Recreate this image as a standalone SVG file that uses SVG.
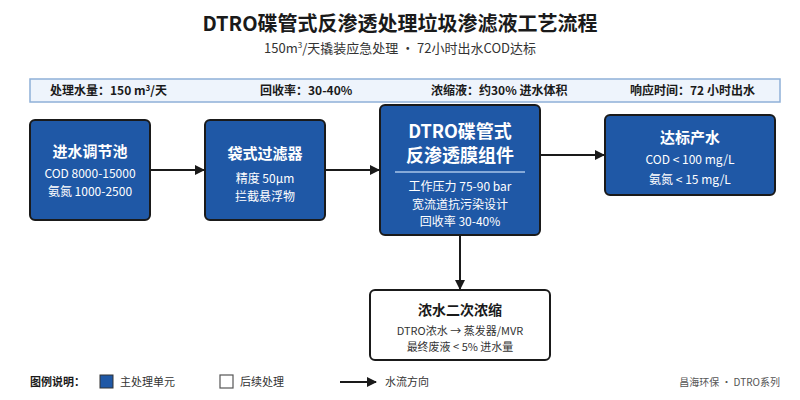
<svg xmlns="http://www.w3.org/2000/svg" width="800" height="400" viewBox="0 0 800 400">
<defs>
<marker id="ah" markerWidth="10" markerHeight="10" refX="9" refY="5" orient="auto" markerUnits="userSpaceOnUse">
<path d="M0,0 L10,5 L0,10 Z" fill="#1a1a1a"/>
</marker>
<style>
text{font-family:"Noto Sans CJK SC","Noto Sans",sans-serif;}
.main{fill:#1f58a6;stroke:#1a1a1a;stroke-width:2;}
.sub{fill:#ffffff;stroke:#1a1a1a;stroke-width:2;}
.nt{fill:#ffffff;font-weight:bold;text-anchor:middle;}
.nd{fill:#ffffff;font-size:12px;text-anchor:middle;}
.info{font-size:12px;font-weight:bold;fill:#1a1a1a;}
.conn{stroke:#1a1a1a;stroke-width:2;fill:none;marker-end:url(#ah);}
.leg{font-size:11px;fill:#333;}
</style>
</defs>
<rect width="800" height="400" fill="#ffffff"/>
<text x="400" y="31" text-anchor="middle" font-size="20" font-weight="bold" fill="#1a1a1a">DTRO碟管式反渗透处理垃圾渗滤液工艺流程</text>
<text x="400" y="53" text-anchor="middle" font-size="13" fill="#333">150m<tspan font-size="8" dy="-5">3</tspan><tspan dy="5">/天撬装应急处理 · 72小时出水COD达标</tspan></text>

<g id="infobar">
<rect x="30" y="79" width="750" height="23" fill="#eef4fc" stroke="#8fb0d8" stroke-width="1.5"/>
<text class="info" x="50" y="95">处理水量：150 m<tspan font-size="8" dy="-4">3</tspan><tspan dy="4">/天</tspan></text>
<text class="info" x="260" y="95">回收率：30-40%</text>
<text class="info" x="431" y="95">浓缩液：约30% 进水体积</text>
<text class="info" x="630" y="95">响应时间：72 小时出水</text>
</g>

<g id="connectors">
<line class="conn" x1="151" y1="170" x2="204" y2="170"/>
<line class="conn" x1="326" y1="170" x2="379" y2="170"/>
<line class="conn" x1="541" y1="155" x2="604" y2="155"/>
<line class="conn" x1="460" y1="236" x2="460" y2="289"/>
</g>

<g id="n1">
<rect class="main" x="30" y="120" width="120" height="100" rx="5"/>
<text class="nt" x="90" y="157" font-size="15">进水调节池</text>
<text class="nd" x="90" y="178">COD 8000-15000</text>
<text class="nd" x="90" y="196">氨氮 1000-2500</text>
</g>

<g id="n2">
<rect class="main" x="205" y="120" width="120" height="100" rx="5"/>
<text class="nt" x="265" y="159" font-size="15">袋式过滤器</text>
<text class="nd" x="265" y="183">精度 50μm</text>
<text class="nd" x="265" y="201">拦截悬浮物</text>
</g>

<g id="n3">
<rect class="main" x="380" y="105" width="160" height="130" rx="5" stroke-width="3"/>
<text class="nt" x="460" y="138" font-size="18">DTRO碟管式</text>
<text class="nt" x="460" y="162" font-size="18">反渗透膜组件</text>
<line x1="395" y1="172" x2="525" y2="172" stroke="#a9c4e8" stroke-width="1.5"/>
<text class="nd" x="460" y="191">工作压力 75-90 bar</text>
<text class="nd" x="460" y="209">宽流道抗污染设计</text>
<text class="nd" x="460" y="226">回收率 30-40%</text>
</g>

<g id="n4">
<rect class="main" x="605" y="115" width="170" height="80" rx="5"/>
<text class="nt" x="690" y="143" font-size="15">达标产水</text>
<text class="nd" x="690" y="164">COD &lt; 100 mg/L</text>
<text class="nd" x="690" y="184">氨氮 &lt; 15 mg/L</text>
</g>

<g id="n5">
<rect class="sub" x="370" y="290" width="180" height="70" rx="5"/>
<text x="460" y="315" text-anchor="middle" font-size="14" font-weight="bold" fill="#1a1a1a">浓水二次浓缩</text>
<text x="460" y="335" text-anchor="middle" font-size="11" fill="#333">DTRO浓水 → 蒸发器/MVR</text>
<text x="460" y="351" text-anchor="middle" font-size="11" fill="#333">最终废液 &lt; 5% 进水量</text>
</g>

<g id="legend">
<text x="30" y="386" font-size="11" font-weight="bold" fill="#1a1a1a">图例说明：</text>
<rect x="100" y="375" width="13" height="13" fill="#1f58a6" stroke="#333" stroke-width="1"/>
<text class="leg" x="120" y="386">主处理单元</text>
<rect x="220" y="375" width="13" height="13" fill="#ffffff" stroke="#555" stroke-width="1.2"/>
<text class="leg" x="240" y="386">后续处理</text>
<line x1="340" y1="382" x2="376" y2="382" stroke="#1a1a1a" stroke-width="2" marker-end="url(#ah)"/>
<text class="leg" x="385" y="386">水流方向</text>
<text x="780" y="386" text-anchor="end" font-size="10" fill="#555">昌海环保 · DTRO系列</text>
</g>
</svg>
